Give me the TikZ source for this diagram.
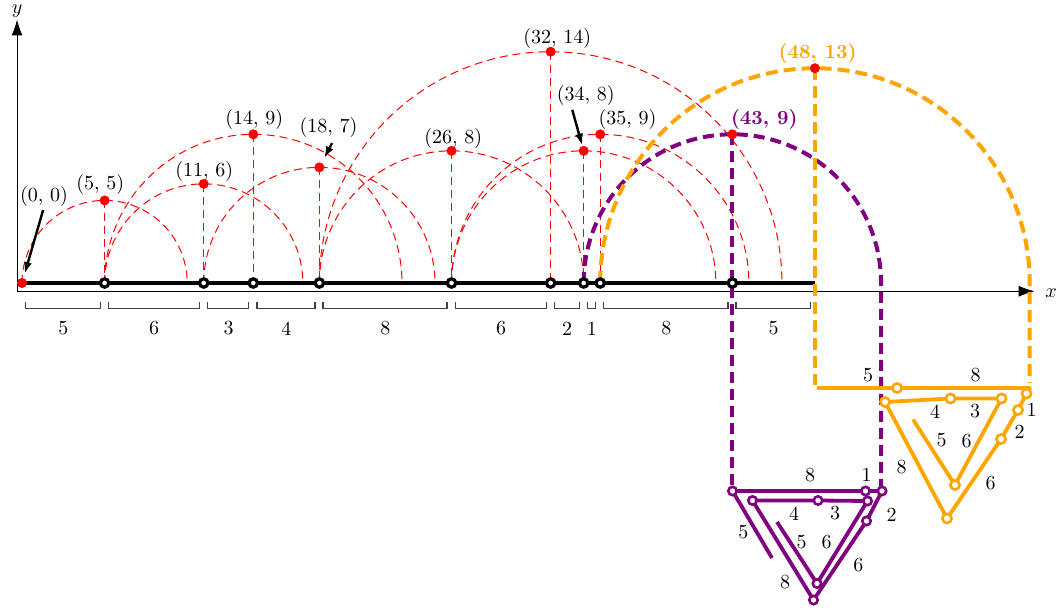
\documentclass[tikz,border=0pt]{standalone}
\usetikzlibrary{arrows.meta}
\definecolor{vio}{RGB}{128,0,128}
\definecolor{orng}{RGB}{255,165,0}
\begin{document}
\begin{tikzpicture}[x=0.5pt,y=-0.5pt,
  reddash/.style={red,line width=0.5pt,dash pattern=on 4pt off 2.5pt},
  viodash/.style={vio,line width=2pt,dash pattern=on 5.5pt off 3pt},
  orgdash/.style={orng,line width=2pt,dash pattern=on 6pt off 3pt},
  reddot/.style={circle,fill=red,inner sep=0pt,minimum size=5pt},
  joint/.style={circle,draw=black,fill=white,line width=1.6pt,inner sep=0pt,minimum size=4.2pt},
  vjoint/.style={circle,draw=vio,fill=white,line width=1.3pt,inner sep=0pt,minimum size=4.2pt},
  ojoint/.style={circle,draw=orng,fill=white,line width=1.3pt,inner sep=0pt,minimum size=4.6pt},
  ruler/.style={line width=1.8pt},
  axis/.style={line width=0.5pt,-{Latex[length=8pt,width=5.5pt]}},
  ptr/.style={line width=1.2pt,-{Latex[length=6pt,width=4pt]}},
  brk/.style={black!75,line width=0.6pt},
  vline/.style={vio,line width=1.9pt,line join=round},
  oline/.style={orng,line width=1.9pt,line join=round},
  lbl/.style={inner sep=0pt}
]
\useasboundingbox (0,0) rectangle (1064,608);
\begin{scope}[shift={(11pt,-141.5pt)},x=8.26pt,y=8.26pt]
  % axes
  \coordinate (O) at (-0.3,-0.5);
  \coordinate (xend) at (61.3,-0.5);
  \coordinate (yend) at (-0.3,15.95);
  \draw[axis] (O) -- (xend);
  \draw[axis] (O) -- (yend);
  \node[lbl] (xl) at (62.3,-0.6) {$x$};
  \node[lbl] (yl) at (-0.3,16.45) {$y$};
  % ruler positions
  \foreach \a in {0,5,11,14,18,26,32,34,35,43,48} \coordinate (p\a) at (\a,0);
  % red arcs and verticals
  \foreach \a/\h in {5/5,11/6,14/9,18/7,26/8,32/14,34/8,35/9}{
    \draw[reddash] (\a-\h,0) arc[start angle=180,end angle=0,radius=\h];
    \coordinate (c\a) at (\a,\h);
    \draw[reddash] (c\a) -- (p\a);
  }
  \coordinate (c43) at (43,9);
  \coordinate (c48) at (48,13);
  % ruler
  \draw[ruler] (p0) -- (p48);
  % coloured arcs
  \coordinate (vL) at (43,-12.59);
  \coordinate (vR) at (52,-12.59);
  \coordinate (oL) at (48,-6.15);
  \coordinate (oR) at (61,-6.05);
  \draw[viodash] (p34) arc[start angle=180,end angle=0,radius=9] -- (vR);
  \draw[viodash] (c43) -- (vL);
  \draw[orgdash] (p35) arc[start angle=180,end angle=0,radius=13] -- (oR);
  \draw[orgdash] (c48) -- (oL);
  % joints
  \foreach \a in {5,11,14,18,26,32,34,35,43} \node[joint] (j\a) at (p\a) {};
  % red dots
  \node[reddot] (t0) at (0,0) {};
  \foreach \a in {5,11,14,18,26,32,34,35,43,48} \node[reddot] (t\a) at (c\a) {};
  % labels
  \node[lbl] (l0) at (1.33,5.23) {(0, 0)};
  \node[lbl] (l5) at (4.73,5.94) {(5, 5)};
  \node[lbl] (l11) at (11.03,6.75) {(11, 6)};
  \node[lbl] (l14) at (14.06,9.88) {(14, 9)};
  \node[lbl] (l18) at (18.55,9.41) {(18, 7)};
  \node[lbl] (l26) at (26.1,8.77) {(26, 8)};
  \node[lbl] (l32) at (32.4,14.83) {(32, 14)};
  \node[lbl] (l34) at (34.12,11.33) {(34, 8)};
  \node[lbl] (l35) at (36.65,9.92) {(35, 9)};
  \node[lbl,text=vio] (l43) at (44.93,9.92) {\textbf{(43, 9)}};
  \node[lbl,text=orng] (l48) at (48.16,13.92) {\textbf{(48, 13)}};
  % pointers
  \coordinate (a0) at (1.28,4.42);
  \coordinate (a18) at (18.77,8.47);
  \coordinate (a34) at (33.31,10.48);
  \draw[ptr,shorten >=2pt] (a0) -- (t0);
  \draw[ptr,shorten >=2.4pt] (a18) -- (t18);
  \draw[ptr] (a34) -- (t34);
  % brackets
  \foreach \a/\b/\n [count=\k] in {0/5/5,5/11/6,11/14/3,14/18/4,18/26/8,26/32/6,32/34/2,34/35/1,35/43/8,43/48/5}{
    \draw[brk] (\a+0.22,-1.13) -- (\a+0.22,-1.56) -- (\b-0.27,-1.56) -- (\b-0.27,-1.13);
    \node[lbl] (s\k) at ({(\a+\b)/2},-2.75) {\n};
  }
\end{scope}
% purple folding
\coordinate (A) at (732.5,491);
\coordinate (B) at (865.5,491);
\coordinate (C) at (882,491);
\coordinate (G) at (866.5,521);
\coordinate (I) at (813.5,600);
\coordinate (D) at (752.5,500.5);
\coordinate (E) at (818,500.5);
\coordinate (F) at (867.5,501);
\coordinate (H) at (817,583.5);
\coordinate (Pin) at (777,522);
\coordinate (Pout) at (772,558);
\draw[vline] (A) -- (B) -- (C) -- (G) -- (I) -- (D) -- (E) -- (F) -- (H) -- (Pin);
\draw[vline] (A) -- (Pout);
\foreach \q in {A,B,C,G,I,D,E,F,H} \node[vjoint] (v\q) at (\q) {};
\node[lbl] (pv1) at (810,475) {8};
\node[lbl] (pv2) at (866.7,475) {1};
\node[lbl] (pv3) at (891.7,515) {2};
\node[lbl] (pv4) at (794,513.3) {4};
\node[lbl] (pv5) at (835,513.3) {3};
\node[lbl] (pv6) at (743.3,531.7) {5};
\node[lbl] (pv7) at (801.7,541.7) {5};
\node[lbl] (pv8) at (826.7,541.7) {6};
\node[lbl] (pv9) at (858.3,565) {6};
\node[lbl] (pv10) at (785,581.7) {8};
% orange folding
\coordinate (O1) at (817,388);
\coordinate (O2) at (897,388);
\coordinate (O3) at (1030,388);
\coordinate (O4) at (1026.5,393.5);
\coordinate (O5) at (1018,410);
\coordinate (O6) at (1001,439);
\coordinate (O7) at (947,518.5);
\coordinate (O8) at (885,402);
\coordinate (O9) at (950.5,398.5);
\coordinate (O10) at (1001.5,398.5);
\coordinate (O11) at (955,485);
\coordinate (O12) at (913,419.5);
\draw[oline] (O1) -- (O2) -- (O3) -- (O4) -- (O5) -- (O6) -- (O7) -- (O8) -- (O9) -- (O10) -- (O11) -- (O12);
\foreach \q in {O2,O4,O5,O6,O7,O8,O9,O10,O11} \node[ojoint] (j\q) at (\q) {};
\node[lbl] (po1) at (868,375) {5};
\node[lbl] (po2) at (975.5,375) {8};
\node[lbl] (po3) at (935,412) {4};
\node[lbl] (po4) at (975,411.5) {3};
\node[lbl] (po5) at (1031.7,409.5) {1};
\node[lbl] (po6) at (1019.5,431.7) {2};
\node[lbl] (po7) at (941.7,440) {5};
\node[lbl] (po8) at (966.7,441) {6};
\node[lbl] (po9) at (901.7,466.7) {8};
\node[lbl] (po10) at (990.7,482.7) {6};
\end{tikzpicture}
\end{document}
